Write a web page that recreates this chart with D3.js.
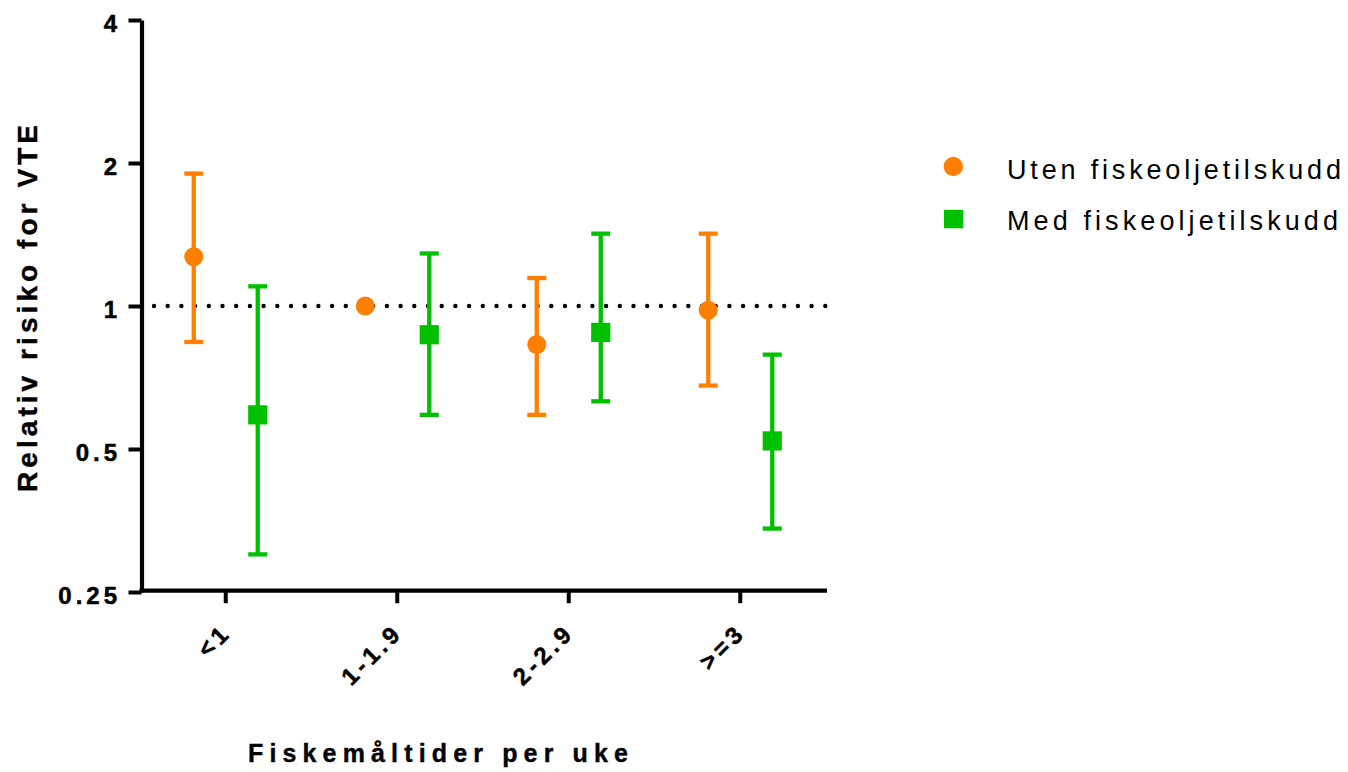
<!DOCTYPE html>
<html>
<head>
<meta charset="utf-8">
<script src="https://cdn.jsdelivr.net/npm/d3@7"></script>
<style>
  html, body { margin: 0; padding: 0; background: #fff; }
  svg { display: block; }
  text { font-family: "Liberation Sans", Arial, Helvetica, sans-serif; fill: #000; }
</style>
</head>
<body>
<svg id="chart" width="1348" height="772"></svg>
<script>
// ---- data ----
const categories = ["<1", "1-1.9", "2-2.9", ">=3"];
const seriesNames = ["Uten fiskeoljetilskudd", "Med fiskeoljetilskudd"];
const utenRR = [1.27, 1.0, 0.83, 0.98];
const utenLo = [0.84, null, 0.59, 0.68];
const utenHi = [1.90, null, 1.145, 1.42];
const medRR = [0.59, 0.87, 0.88, 0.52];
const medLo = [0.30, 0.59, 0.63, 0.34];
const medHi = [1.10, 1.29, 1.42, 0.79];
const yTicks = [0.25, 0.5, 1, 2, 4];
const yTickLabels = ["0.25", "0.5", "1", "2", "4"];
const xTitle = "Fiskemåltider per uke";
const yTitle = "Relativ risiko for VTE";

const ORANGE = "#FF8000";
const GREEN = "#00C000";

const svg = d3.select("#chart");

const y = d3.scaleLog().base(2).domain([0.25, 4]).range([592, 20]);
const x = d3.scaleBand().domain(categories).range([140, 826]).padding(0);
const cx = c => x(c) + x.bandwidth() / 2;
const OFF = 32;

// reference dotted line at 1
svg.append("line")
  .attr("x1", 154).attr("x2", 827)
  .attr("y1", y(1)).attr("y2", y(1))
  .attr("stroke", "#000").attr("stroke-width", 4.4)
  .attr("stroke-linecap", "round")
  .attr("stroke-dasharray", "0 13.7");

// y axis
const yAxis = svg.append("g")
  .attr("transform", "translate(141.5,0)")
  .call(d3.axisLeft(y).tickValues(yTicks).tickSize(13).tickSizeOuter(0).tickFormat((d, i) => yTickLabels[i]));
yAxis.select(".domain").attr("stroke", "#000").attr("stroke-width", 4.2);
yAxis.selectAll(".tick line").attr("stroke", "#000").attr("stroke-width", 4);
yAxis.selectAll(".tick text")
  .attr("x", -20.5)
  .attr("dy", 11)
  .style("font-size", "24px")
  .style("font-weight", "bold")
  .style("letter-spacing", "4px")
  .style("stroke", "#000").style("stroke-width", "0.5px")
  .attr("fill", "#000");

// x axis
const xAxis = svg.append("g")
  .attr("transform", "translate(0,590.7)")
  .call(d3.axisBottom(x).tickSize(12.5).tickSizeOuter(0));
xAxis.select(".domain").attr("stroke", "#000").attr("stroke-width", 4.2)
  .attr("d", "M139.5,0H827");
xAxis.selectAll(".tick line").attr("stroke", "#000").attr("stroke-width", 4);
xAxis.selectAll(".tick text")
  .attr("y", 0).attr("dy", 0)
  .attr("text-anchor", "end")
  .attr("transform", "translate(4,46) rotate(-45) translate(4,0)")
  .style("font-size", "24px")
  .style("font-weight", "bold")
  .style("letter-spacing", "4px")
  .style("stroke", "#000").style("stroke-width", "0.5px")
  .attr("fill", "#000");

// error bars + markers
function drawSeries(rr, lo, hi, color, dx, shape) {
  const g = svg.append("g");
  const data = categories.map((c, i) => ({c, rr: rr[i], lo: lo[i], hi: hi[i]}));
  const withErr = data.filter(d => d.lo != null && d.hi != null);
  g.selectAll("line.v").data(withErr).enter().append("line")
    .attr("x1", d => cx(d.c) + dx).attr("x2", d => cx(d.c) + dx)
    .attr("y1", d => y(d.hi)).attr("y2", d => y(d.lo))
    .attr("stroke", color).attr("stroke-width", 4.3);
  ["hi", "lo"].forEach(k => {
    g.selectAll("line.cap" + k).data(withErr).enter().append("line")
      .attr("x1", d => cx(d.c) + dx - 9.5).attr("x2", d => cx(d.c) + dx + 9.5)
      .attr("y1", d => y(d[k])).attr("y2", d => y(d[k]))
      .attr("stroke", color).attr("stroke-width", 4.3);
  });
  if (shape === "circle") {
    g.selectAll("circle").data(data).enter().append("circle")
      .attr("cx", d => cx(d.c) + dx).attr("cy", d => y(d.rr))
      .attr("r", 9.5).attr("fill", color);
  } else {
    g.selectAll("rect").data(data).enter().append("rect")
      .attr("x", d => cx(d.c) + dx - 9.6).attr("y", d => y(d.rr) - 9.6)
      .attr("width", 19.2).attr("height", 19.2).attr("fill", color);
  }
}
drawSeries(utenRR, utenLo, utenHi, ORANGE, -OFF, "circle");
drawSeries(medRR, medLo, medHi, GREEN, OFF, "square");

// legend
const leg = svg.append("g");
leg.append("circle").attr("cx", 953.3).attr("cy", 166.5).attr("r", 9.7).attr("fill", ORANGE);
leg.append("rect").attr("x", 944).attr("y", 209.8).attr("width", 19.3).attr("height", 18.5).attr("fill", GREEN);
leg.append("text").attr("x", 1007).attr("y", 179.3)
  .attr("textLength", 334).attr("lengthAdjust", "spacing")
  .style("font-size", "27px").text(seriesNames[0]);
leg.append("text").attr("x", 1007).attr("y", 229.5)
  .attr("textLength", 331).attr("lengthAdjust", "spacing")
  .style("font-size", "27px").text(seriesNames[1]);

// axis titles
svg.append("text")
  .attr("x", 248).attr("y", 762.3)
  .attr("textLength", 380).attr("lengthAdjust", "spacing")
  .style("font-size", "25px").style("font-weight", "bold")
  .style("stroke", "#000").style("stroke-width", "0.4px")
  .text(xTitle);

svg.append("text")
  .attr("transform", "translate(37,492) rotate(-90)")
  .attr("x", 0).attr("y", 0)
  .attr("textLength", 367).attr("lengthAdjust", "spacing")
  .style("font-size", "28px").style("font-weight", "bold")
  .style("stroke", "#000").style("stroke-width", "0.4px")
  .text(yTitle);
</script>
</body>
</html>
